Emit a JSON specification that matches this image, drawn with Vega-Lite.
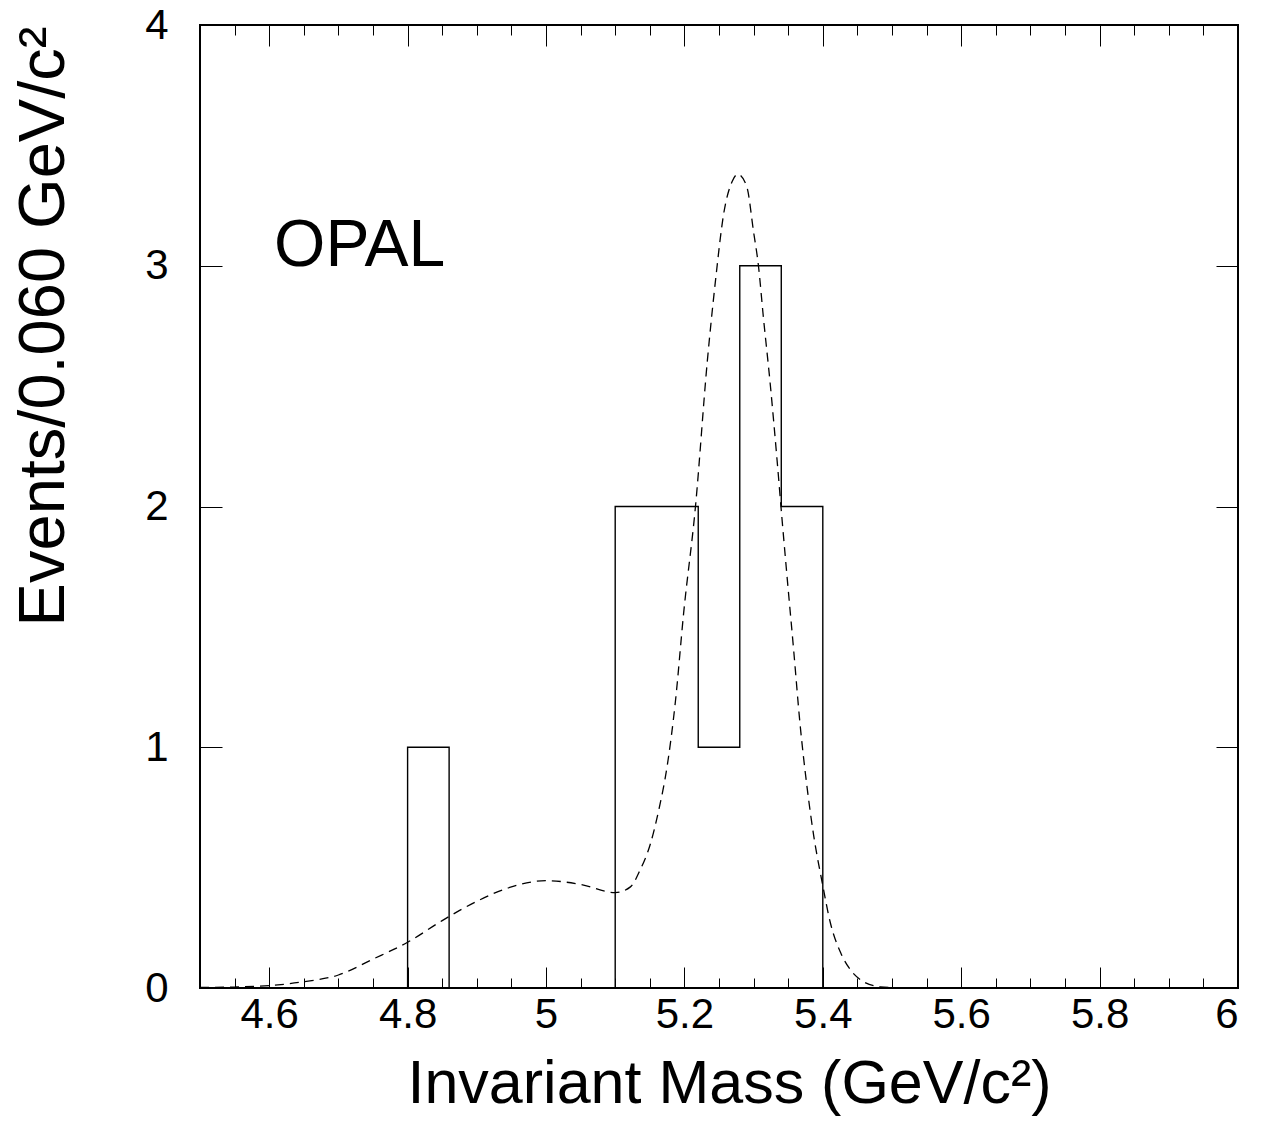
{
  "$schema": "https://vega.github.io/schema/vega-lite/v6.json",
  "width": 1038,
  "height": 963,
  "autosize": "none",
  "padding": {"left": 200, "top": 25, "right": 23, "bottom": 141},
  "background": "white",
  "config": {
    "view": {"stroke": "#000", "strokeWidth": 2},
    "axis": {
      "domain": false,
      "grid": false,
      "tickColor": "#000",
      "tickWidth": 1,
      "labelFont": "Liberation Sans",
      "labelFontSize": 42,
      "labelColor": "#000",
      "titleFont": "Liberation Sans",
      "titleFontWeight": "normal",
      "titleColor": "#000"
    }
  },
  "datasets": {
    "hist": [
      {"lo": 4.50, "count": 0}, {"lo": 4.56, "count": 0}, {"lo": 4.62, "count": 0},
      {"lo": 4.68, "count": 0}, {"lo": 4.74, "count": 0}, {"lo": 4.80, "count": 1},
      {"lo": 4.86, "count": 0}, {"lo": 4.92, "count": 0}, {"lo": 4.98, "count": 0},
      {"lo": 5.04, "count": 0}, {"lo": 5.10, "count": 2}, {"lo": 5.16, "count": 2},
      {"lo": 5.22, "count": 1}, {"lo": 5.28, "count": 3}, {"lo": 5.34, "count": 2},
      {"lo": 5.40, "count": 0}, {"lo": 5.46, "count": 0}, {"lo": 5.52, "count": 0},
      {"lo": 5.58, "count": 0}, {"lo": 5.64, "count": 0}, {"lo": 5.70, "count": 0},
      {"lo": 5.76, "count": 0}, {"lo": 5.82, "count": 0}, {"lo": 5.88, "count": 0},
      {"lo": 5.94, "count": 0}, {"lo": 6.00, "count": 0}
    ],
    "fit": [
      {"mass": 4.50, "value": 0.002}, {"mass": 4.55, "value": 0.004}, {"mass": 4.60, "value": 0.010},
      {"mass": 4.65, "value": 0.026}, {"mass": 4.70, "value": 0.054}, {"mass": 4.75, "value": 0.12},
      {"mass": 4.80, "value": 0.19}, {"mass": 4.85, "value": 0.28}, {"mass": 4.90, "value": 0.36},
      {"mass": 4.95, "value": 0.42}, {"mass": 5.00, "value": 0.446}, {"mass": 5.05, "value": 0.43},
      {"mass": 5.10, "value": 0.396}, {"mass": 5.122, "value": 0.42}, {"mass": 5.136, "value": 0.49},
      {"mass": 5.151, "value": 0.60}, {"mass": 5.163, "value": 0.74}, {"mass": 5.175, "value": 0.92},
      {"mass": 5.187, "value": 1.19}, {"mass": 5.199, "value": 1.56}, {"mass": 5.216, "value": 2.0},
      {"mass": 5.233, "value": 2.6}, {"mass": 5.245, "value": 2.94}, {"mass": 5.257, "value": 3.22},
      {"mass": 5.269, "value": 3.35}, {"mass": 5.277, "value": 3.38}, {"mass": 5.290, "value": 3.33},
      {"mass": 5.300, "value": 3.14}, {"mass": 5.307, "value": 3.0}, {"mass": 5.314, "value": 2.79},
      {"mass": 5.324, "value": 2.51}, {"mass": 5.334, "value": 2.19}, {"mass": 5.341, "value": 1.95},
      {"mass": 5.348, "value": 1.72}, {"mass": 5.358, "value": 1.40}, {"mass": 5.367, "value": 1.1},
      {"mass": 5.377, "value": 0.84}, {"mass": 5.387, "value": 0.63}, {"mass": 5.399, "value": 0.44},
      {"mass": 5.411, "value": 0.27}, {"mass": 5.426, "value": 0.145}, {"mass": 5.440, "value": 0.075},
      {"mass": 5.459, "value": 0.026}, {"mass": 5.483, "value": 0.005}, {"mass": 5.51, "value": 0.001},
      {"mass": 5.55, "value": 0.0}
    ],
    "label": [{"mass": 4.607, "value": 3.0, "text": "OPAL"}]
  },
  "layer": [
    {
      "data": {"name": "hist"},
      "mark": {"type": "line", "interpolate": "step-after", "color": "#000", "strokeWidth": 1.4},
      "encoding": {
        "x": {
          "field": "lo", "type": "quantitative",
          "scale": {"domain": [4.5, 6], "nice": false, "zero": false},
          "axis": {
            "orient": "bottom",
            "values": [4.55, 4.6, 4.65, 4.7, 4.75, 4.8, 4.85, 4.9, 4.95, 5, 5.05, 5.1, 5.15, 5.2, 5.25, 5.3, 5.35, 5.4, 5.45, 5.5, 5.55, 5.6, 5.65, 5.7, 5.75, 5.8, 5.85, 5.9, 5.95, 6],
            "tickSize": {"condition": {"test": "abs(datum.value*5 - round(datum.value*5)) < 0.001", "value": -21}, "value": -10},
            "labelExpr": "abs(datum.value*5 - round(datum.value*5)) < 0.001 ? format(datum.value, '.2~f') : ''",
            "labelPadding": 27,
            "labelBaseline": "top",
            "title": "Invariant Mass (GeV/c²)",
            "titleFontSize": 61,
            "titleBaseline": "alphabetic",
            "titleAlign": "center",
            "titleX": 529,
            "titleY": 114
          }
        },
        "y": {
          "field": "count", "type": "quantitative",
          "scale": {"domain": [0, 4], "nice": false, "zero": true},
          "axis": {
            "orient": "left",
            "values": [0, 1, 2, 3, 4],
            "tickSize": -22,
            "labelPadding": 54,
            "labelBaseline": "middle",
            "title": "Events/0.060 GeV/c²",
            "titleFontSize": 65,
            "titleAngle": -90,
            "titleBaseline": "alphabetic",
            "titleAlign": "center",
            "titleX": -137,
            "titleY": 301
          }
        }
      }
    },
    {
      "data": {"name": "fit"},
      "mark": {"type": "line", "interpolate": "monotone", "color": "#000", "strokeWidth": 1.3, "strokeDash": [9, 6]},
      "encoding": {
        "x": {
          "field": "mass", "type": "quantitative",
          "axis": {
            "orient": "top",
            "values": [4.55, 4.6, 4.65, 4.7, 4.75, 4.8, 4.85, 4.9, 4.95, 5, 5.05, 5.1, 5.15, 5.2, 5.25, 5.3, 5.35, 5.4, 5.45, 5.5, 5.55, 5.6, 5.65, 5.7, 5.75, 5.8, 5.85, 5.9, 5.95],
            "tickSize": {"condition": {"test": "abs(datum.value*5 - round(datum.value*5)) < 0.001", "value": -21}, "value": -10},
            "labels": false,
            "title": null
          }
        },
        "y": {
          "field": "value", "type": "quantitative",
          "axis": {
            "orient": "right",
            "values": [1, 2, 3],
            "tickSize": -22,
            "labels": false,
            "title": null
          }
        }
      }
    },
    {
      "data": {"name": "label"},
      "mark": {"type": "text", "font": "Liberation Sans", "fontSize": 66, "align": "left", "baseline": "alphabetic", "color": "#000"},
      "encoding": {
        "x": {"field": "mass", "type": "quantitative", "axis": null},
        "y": {"field": "value", "type": "quantitative", "axis": null},
        "text": {"field": "text"}
      }
    }
  ],
  "resolve": {"axis": {"x": "independent", "y": "independent"}}
}
